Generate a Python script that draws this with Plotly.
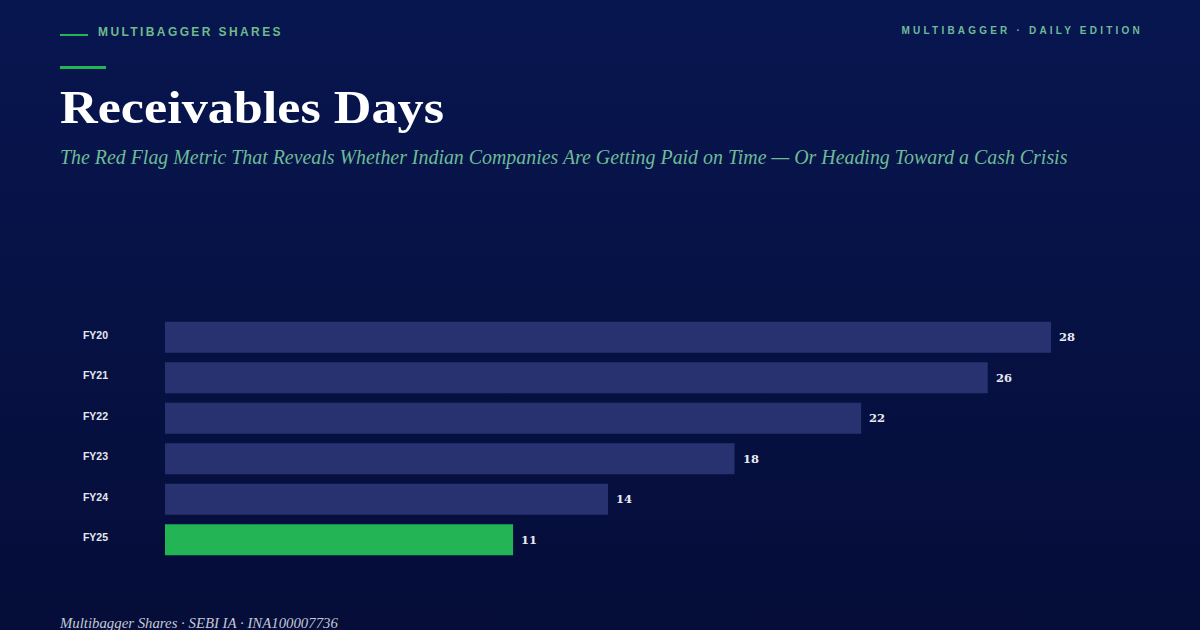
import plotly.graph_objects as go
import urllib.parse

categories = ["FY20", "FY21", "FY22", "FY23", "FY24", "FY25"]
values = [28, 26, 22, 18, 14, 11]
bar_colors = ["#283270", "#283270", "#283270", "#283270", "#283270", "#22B455"]

W, H = 1200, 630
L, R, T, B = 165, 1051, 317, 560


def xp(px):
    return (px - L) / (R - L)


def yp(py):
    return (B - py) / (B - T)


svg = (
    "<svg xmlns='http://www.w3.org/2000/svg' width='1200' height='630' preserveAspectRatio='none'>"
    "<defs><linearGradient id='g' x1='0' y1='0' x2='0' y2='1'>"
    "<stop offset='0' stop-color='#081650'/><stop offset='1' stop-color='#050D38'/>"
    "</linearGradient></defs><rect width='1200' height='630' fill='url(#g)'/></svg>"
)
bg = "data:image/svg+xml," + urllib.parse.quote(svg)

fig = go.Figure(
    go.Bar(
        x=values,
        y=categories,
        orientation="h",
        marker=dict(color=bar_colors, line=dict(width=0)),
        cliponaxis=False,
        hoverinfo="skip",
    )
)


def note(px, py, text, family, size, color, xanchor="left", **kw):
    fig.add_annotation(
        x=xp(px), y=yp(py), xref="paper", yref="paper", text=text, showarrow=False,
        xanchor=xanchor, yanchor="middle", borderpad=0, borderwidth=0,
        font=dict(family=family, size=size, color=color, **kw),
    )


for cat, val in zip(categories, values):
    fig.add_annotation(
        x=val, y=cat, xref="x", yref="y", text=str(val), showarrow=False, xanchor="left",
        yanchor="middle", xshift=8, yshift=0, borderpad=0, borderwidth=0,
        font=dict(family="DejaVu Serif", size=11.5, color="#E8EAF2", weight="bold"),
    )

note(98, 32.5, "MULTIBAGGER SHARES", "Liberation Sans", 12, "#6DBB8D", weight="bold")
note(1143, 31, "MULTIBAGGER · DAILY EDITION", "Liberation Sans", 10, "#6DBB9A", xanchor="right", weight="bold")
note(60, 107, "Receivables Days", "Liberation Serif", 47, "#FFFFFF", weight="bold")
note(60, 157, "The Red Flag Metric That Reveals Whether Indian Companies Are Getting Paid on Time — Or Heading Toward a Cash Crisis",
     "Liberation Serif", 19.9, "#6DBB96", style="italic")
note(59, 622.5, "Multibagger Shares · SEBI IA · INA100007736", "Liberation Serif", 14.8, "#C3C8D8", style="italic")

fig.add_shape(type="rect", xref="paper", yref="paper", x0=xp(60), x1=xp(88), y0=yp(34), y1=yp(36),
              fillcolor="#22B455", line_width=0)
fig.add_shape(type="rect", xref="paper", yref="paper", x0=xp(60), x1=xp(106), y0=yp(66), y1=yp(69),
              fillcolor="#22B455", line_width=0)

fig.update_layout(
    width=W, height=H,
    autosize=False,
    margin=dict(l=L, r=W - R, t=T, b=H - B, pad=0),
    paper_bgcolor="#050F44",
    plot_bgcolor="rgba(0,0,0,0)",
    showlegend=False,
    bargap=0.24,
    images=[dict(source=bg, xref="paper", yref="paper", x=xp(0), y=yp(0), sizex=W / (R - L), sizey=H / (B - T),
                 xanchor="left", yanchor="top", sizing="stretch", layer="below")],
)
fig.update_xaxes(range=[0, 28], visible=False, fixedrange=True)
fig.update_yaxes(
    type="category", autorange="reversed", showgrid=False, zeroline=False, showline=False, ticks="",
    ticklabelstandoff=56, ticklabelshift=2,
    tickfont=dict(family="Liberation Sans", size=10.5, color="#E6E8F0", weight="bold"),
)

post = """
document.body.style.margin='0';
document.documentElement.style.overflow='hidden';
var s={'MULTIBAGGER SHARES':[2.4,'l'],'MULTIBAGGER · DAILY EDITION':[3.2,'r']};
document.querySelectorAll('.annotation-text').forEach(function(t){
  var a=t.getBBox();
  if(t.textContent=='Receivables Days'){
    t.setAttribute('textLength','384');
    t.setAttribute('lengthAdjust','spacingAndGlyphs');
    var n=t.getBBox();
    t.setAttribute('x',parseFloat(t.getAttribute('x')||0)+(a.x-n.x));
    return;
  }
  var c=s[t.textContent]; if(!c) return;
  t.style.letterSpacing=c[0]+'px';
  var b=t.getBBox();
  var dx=c[1]=='l'?a.x-b.x:(a.x+a.width)-(b.x+b.width);
  t.setAttribute('x',parseFloat(t.getAttribute('x')||0)+dx);
});
"""
fig.write_html("out.html", post_script=post, config={"displayModeBar": False})
